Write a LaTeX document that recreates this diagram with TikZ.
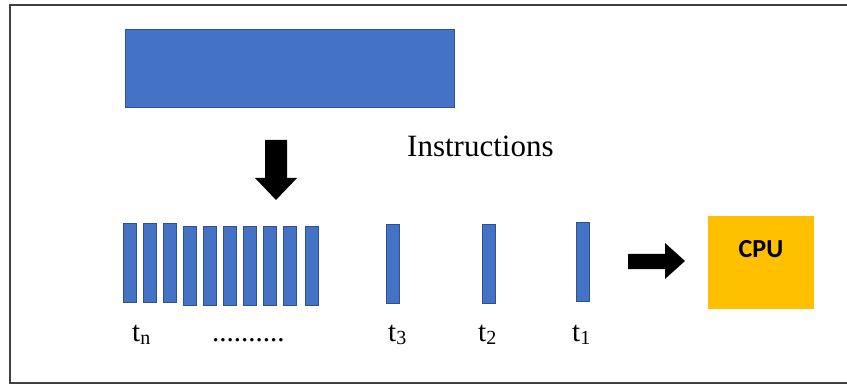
\documentclass[tikz,border=0pt]{standalone}
\usepackage{fontspec}
\setmainfont{Liberation Serif}
\newfontfamily\cpufont{Carlito}
\begin{document}
\begin{tikzpicture}[x=1pt,y=-1pt]

\newcommand{\tsub}[1]{t\raisebox{-3pt}{\fontsize{20}{20}\selectfont #1}}

  \definecolor{barcol}{RGB}{68,114,196}
  \definecolor{bardraw}{RGB}{47,82,143}
  \definecolor{cpucol}{RGB}{255,192,0}
  \definecolor{framecol}{RGB}{64,64,64}

 \tikzset{
      barstl/.style={draw=bardraw,fill=barcol,line width=0.8pt,inner sep=0pt,
        minimum width=13pt,minimum height=79pt},
      lblstl/.style={font=\fontsize{29}{30}\selectfont,anchor=base west,inner sep=0pt},
      blkarr/.style={fill=black},
    }

 \useasboundingbox (0,0) rectangle (847,385);

 % frame, open on the right
 \draw[framecol,line width=2pt] (870,5) -- (10,5) -- (10,383) -- (870,383);

 \node[barstl,minimum width=329pt,minimum height=78pt] (block) at (290,68.5) {};
 \node[lblstl,font=\fontsize{31}{32}\selectfont] (instr) at (407,157) {Instructions};

 % queue of instructions
 \foreach \x [count=\i] in {130,150,170}
   \node[barstl] (q\i) at (\x,263) {};
 \foreach \x [count=\i from 4] in {190,210,230,250,270,290,312}
   \node[barstl] (q\i) at (\x,266) {};

 \node[barstl] (t3) at (392.5,263.5) {};
 \node[barstl] (t2) at (488.5,263.5) {};
 \node[barstl] (t1) at (582.5,262) {};

 \node[lblstl] (ltn) at (132,341) {\tsub{n}};
 \node[lblstl] (ldots) at (212,341) {..........};
 \node[lblstl] (lt3) at (388,341) {\tsub{3}};
 \node[lblstl] (lt2) at (478,341) {\tsub{2}};
 \node[lblstl] (lt1) at (572,341) {\tsub{1}};

 \node[fill=cpucol,minimum width=106pt,minimum height=93pt,inner sep=0pt,
   font=\cpufont\bfseries\fontsize{26}{26}\selectfont,
   text height=18pt,text depth=28pt] (cpu) at (761,262.5) {CPU};

 % block arrows, drawn from their tips
 \coordinate (dtip) at (276,200);
 \coordinate (rtip) at (685,261);

 \fill[blkarr] (dtip) -- ++(21,-22) -- ++(-10,0) -- ++(0,-38) -- ++(-22,0)
   -- ++(0,38) -- ++(-10,0) -- cycle;
 \fill[blkarr] (rtip) -- ++(-20,-18) -- ++(0,11) -- ++(-37,0) -- ++(0,15)
   -- ++(37,0) -- ++(0,10) -- cycle;
\end{tikzpicture}
\end{document}
